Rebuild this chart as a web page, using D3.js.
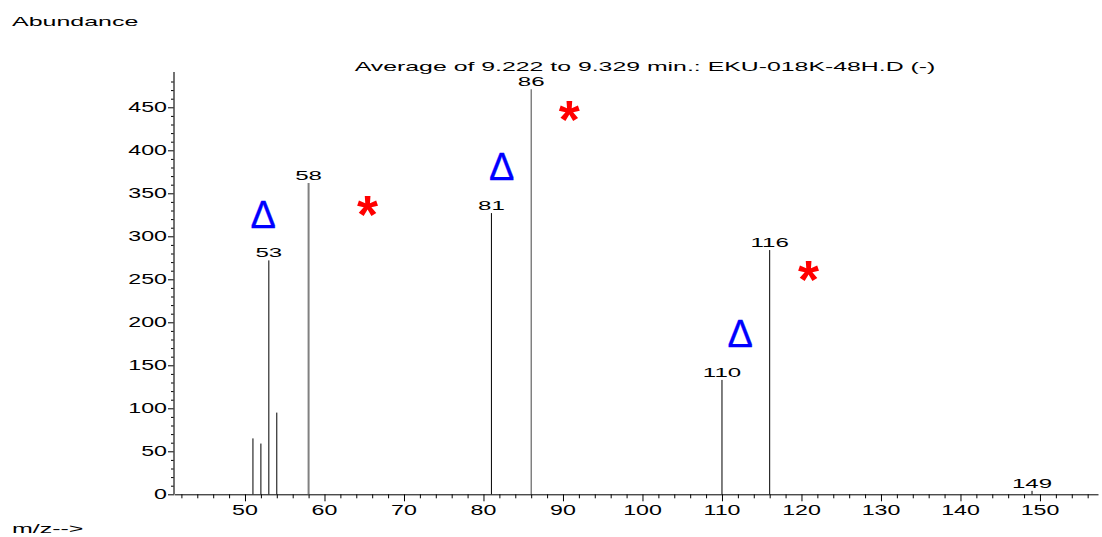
<!DOCTYPE html>
<html>
<head>
<meta charset="utf-8">
<script src="https://cdn.jsdelivr.net/npm/d3@7"></script>
<style>
  body { margin: 0; background: #fff; }
  svg text { font-family: "Liberation Sans", Arial, sans-serif; fill: #000; }
</style>
</head>
<body>
<script>
// peaks of the spectrum
var mz = [51, 52, 53, 54, 58, 81, 86, 110, 116, 149];
var abundance = [65, 59, 272, 95, 362, 327, 471, 133, 284, 4];
var labeled = [53, 58, 81, 86, 110, 116, 149];

// annotation marks (m/z, abundance)
var deltaMz = [52.3, 82.3, 112.3];
var deltaAb = [310, 366, 171];
var starMz = [65.4, 90.8, 120.9];
var starAb = [339, 450, 264];

var xMajor = [50, 60, 70, 80, 90, 100, 110, 120, 130, 140, 150];
var yMajor = [0, 50, 100, 150, 200, 250, 300, 350, 400, 450];

var title = "Average of 9.222 to 9.329 min.: EKU-018K-48H.D (-)";

var width = 1102, height = 537;
var sx = 1.8; // text is drawn horizontally stretched

var svg = d3.select('body')
    .append('svg')
    .attr('width', width)
    .attr('height', height);

var x = d3.scaleLinear().domain([41.07, 157.3]).range([174, 1098]);
var y = d3.scaleLinear().domain([0, 450]).range([494.3, 107.3]);

// stretched text helper
function label(g, tx, ty, txt, size, anchor, s) {
    return g.append('text')
        .attr('transform', 'translate(' + tx + ',' + ty + ') scale(' + (s || sx) + ',1)')
        .attr('text-anchor', anchor || 'start')
        .style('font-size', size + 'px')
        .text(txt);
}

// x axis: minor ticks every 2, major every 10
var xMinor = d3.range(42, 158, 2).filter(function (d) { return d % 10 !== 0; });
svg.append('g')
    .attr('transform', 'translate(0,494.3)')
    .call(d3.axisBottom(x).tickValues(xMinor).tickSize(4).tickFormat(''))
    .call(function (g) { g.select('.domain').remove(); });
var xAxis = svg.append('g')
    .attr('transform', 'translate(0,494.3)')
    .call(d3.axisBottom(x).tickValues(xMajor).tickSize(7).tickSizeOuter(0));
xAxis.selectAll('text').remove();
xAxis.select('.domain').attr('stroke', '#000');
xMajor.forEach(function (v) {
    label(svg, x(v), 515, v, 14.5, 'middle', 1.6);
});

// y axis: minor every 10, major every 50
var yMinor = d3.range(10, 490, 10).filter(function (d) { return d % 50 !== 0; });
svg.append('g')
    .attr('transform', 'translate(174,0)')
    .call(d3.axisLeft(y).tickValues(yMinor).tickSize(3).tickFormat(''))
    .call(function (g) { g.select('.domain').remove(); });
var yAxis = svg.append('g')
    .attr('transform', 'translate(174,0)')
    .call(d3.axisLeft(y).tickValues(yMajor).tickSize(6).tickSizeOuter(0));
yAxis.selectAll('text').remove();
yAxis.select('.domain').remove();
svg.append('line')
    .attr('x1', 174).attr('x2', 174)
    .attr('y1', y(0)).attr('y2', 72)
    .attr('stroke', '#444').attr('stroke-width', 1.5);
yMajor.forEach(function (v) {
    label(svg, 167, y(v) + 5, v, 14.5, 'end', 1.6);
});

// peaks
var peaks = mz.map(function (d, i) { return { mz: d, ab: abundance[i] }; });
svg.selectAll('line.peak')
    .data(peaks)
    .enter()
    .append('line')
    .attr('class', 'peak')
    .attr('x1', function (d) { return x(d.mz); })
    .attr('x2', function (d) { return x(d.mz); })
    .attr('y1', y(0))
    .attr('y2', function (d) { return y(d.ab); })
    .attr('stroke', function (d) { return d.mz === 58 ? '#808080' : (d.mz === 86 ? '#444' : '#000'); })
    .attr('stroke-width', function (d) { return d.mz === 58 ? 2 : 1; });

peaks.filter(function (d) { return labeled.indexOf(d.mz) >= 0; }).forEach(function (d) {
    label(svg, x(d.mz), y(d.ab) - 3, d.mz, 13, 'middle', 1.85);
});

// titles
label(svg, 12, 26, 'Abundance', 13.5, 'start', 1.85);
label(svg, 645, 71, title, 13.5, 'middle', 1.84);
label(svg, 12, 533, 'm/z-->', 13.5, 'start', 1.85);

// annotation marks
deltaMz.forEach(function (d, i) {
    svg.append('text')
        .attr('x', x(d)).attr('y', y(deltaAb[i]))
        .attr('text-anchor', 'middle')
        .style('font-size', '38px')
        .style('fill', '#0000ff')
        .style('stroke', '#0000ff')
        .style('stroke-width', 0.3)
        .text('\u0394');
});
starMz.forEach(function (d, i) {
    svg.append('text')
        .attr('x', x(d)).attr('y', y(starAb[i]))
        .attr('dy', '0.56em')
        .attr('text-anchor', 'middle')
        .style('font-size', '54px')
        .style('font-weight', 'bold')
        .style('fill', '#ff0000')
        .text('*');
});
</script>
</body>
</html>
